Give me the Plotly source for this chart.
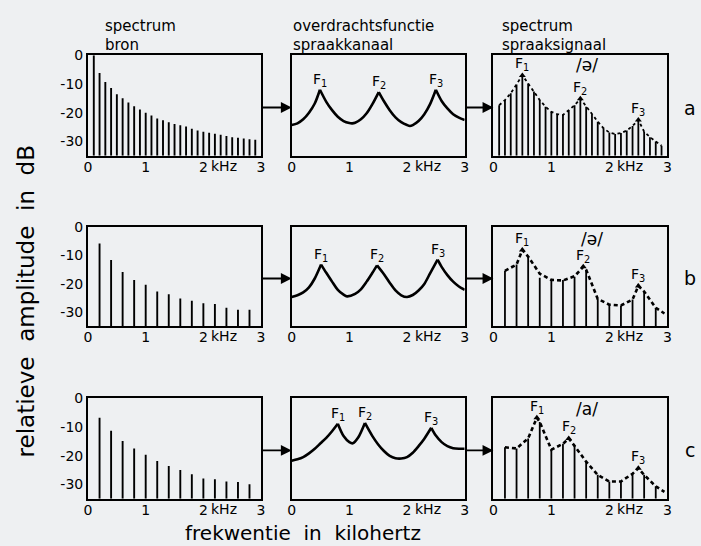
import plotly.graph_objects as go

# ---------------- data ----------------
# source spectra: harmonic frequency (kHz) and relative level (dB)
src_a_f = [0.1, 0.2, 0.3, 0.4, 0.5, 0.6, 0.7, 0.8, 0.9, 1.0, 1.1, 1.2, 1.3, 1.4, 1.5,
           1.6, 1.7, 1.8, 1.9, 2.0, 2.1, 2.2, 2.3, 2.4, 2.5, 2.6, 2.7, 2.8, 2.9]
src_a_db = [0, -6.2, -9.3, -11.4, -13.6, -15, -16.4, -17.7, -18.9, -20, -21, -22, -22.6, -23.3, -23.9,
            -24.4, -24.8, -25.6, -26.2, -26.6, -27, -27.3, -27.7, -28.1, -28.5, -28.7, -29, -29.2, -29.4]
src_b_f = [0.2, 0.4, 0.6, 0.8, 1.0, 1.2, 1.4, 1.6, 1.8, 2.0, 2.2, 2.4, 2.6, 2.8]
src_b_db = [-5.9, -11.7, -15.9, -18.7, -20.4, -22.8, -23.7, -25.2, -26, -26.9, -27.2, -28.5, -29.2, -29.2]
src_c_f = [0.2, 0.4, 0.6, 0.8, 1.0, 1.2, 1.4, 1.6, 1.8, 2.0, 2.2, 2.4, 2.6, 2.8]
src_c_db = [-6.8, -11.3, -14.9, -17.5, -19.7, -21.9, -23.6, -25, -26.5, -28, -28.2, -29, -29.2, -30]

# vocal tract transfer functions
tf_a_f = [0, 0.1, 0.2, 0.3, 0.4, 0.49, 0.6, 0.7, 0.8, 0.9, 1.0, 1.05, 1.1, 1.2, 1.3, 1.4, 1.51,
          1.6, 1.7, 1.8, 1.9, 2.0, 2.05, 2.1, 2.2, 2.3, 2.4, 2.5, 2.6, 2.7, 2.8, 2.9, 3.0]
tf_a_db = [-24.3, -23.7, -22.3, -20, -16.8, -12, -16.2, -19.1, -21.4, -22.9, -23.6, -23.7, -23.5, -22.3,
           -20.2, -17, -12.8, -16, -19.1, -21.6, -23.3, -24.3, -24.6, -24.3, -22.9, -20.5, -17, -12,
           -15.9, -18.5, -20.5, -21.7, -22.5]
tf_a_peaks = [0.49, 1.51, 2.5]

tf_b_f = [0, 0.1, 0.2, 0.3, 0.4, 0.51, 0.6, 0.7, 0.8, 0.9, 0.96, 1.1, 1.2, 1.3, 1.4, 1.48,
          1.6, 1.7, 1.8, 1.9, 2.0, 2.1, 2.2, 2.3, 2.4, 2.53, 2.6, 2.7, 2.8, 2.9, 3.0]
tf_b_db = [-24.7, -24.1, -23.1, -21.3, -18.2, -13.3, -16.2, -19.3, -22.2, -23.9, -24.5, -23.6, -22,
           -19.3, -16.2, -13.6, -16.7, -19.7, -22.4, -24.1, -24.7, -24, -22.4, -20.1, -16.4, -11.6,
           -14.1, -17, -19.3, -21, -22.2]
tf_b_peaks = [0.51, 1.48, 2.53]

tf_c_f = [0, 0.1, 0.2, 0.3, 0.4, 0.5, 0.6, 0.7, 0.8, 0.9, 1.0, 1.06, 1.15, 1.27, 1.4, 1.5, 1.6,
          1.7, 1.8, 1.9, 2.0, 2.1, 2.2, 2.3, 2.42, 2.5, 2.6, 2.7, 2.8, 2.9, 3.0]
tf_c_db = [-21.8, -21.3, -20.5, -19.2, -17.6, -15.7, -13.8, -11.5, -8.9, -13.2, -15.3, -15.7, -13.8,
           -8.6, -13.2, -16.1, -18.4, -20.1, -20.9, -21, -20.5, -19, -16.7, -14.1, -10.3, -13, -15.3,
           -16.7, -17.4, -17.6, -17.6]
tf_c_peaks = [0.8, 1.27, 2.42]

# output (speech signal) spectra: harmonics + envelope
out_a_f = src_a_f
out_a_db = [-17.4, -15.6, -13.2, -10.2, -7.0, -9.8, -12.6, -15.6, -17.9, -19.7, -20.5, -20.8, -19.1,
            -17.4, -15.1, -17.9, -20.5, -23.1, -25.4, -26.9, -27.4, -27.1, -26.2, -24.6, -22.5, -26.6,
            -28.5, -30, -31.5]
env_a_f = out_a_f
env_a_db = out_a_db
out_a_peaks = [0.5, 1.5, 2.5]

out_b_f = src_b_f
out_b_db = [-15.5, -13.3, -10.5, -17.9, -18.7, -18.7, -17.6, -15.1, -25.4, -27.4, -27.7, -25.6, -22.8, -28.5]
env_b_f = [0.2, 0.4, 0.5, 0.6, 0.8, 1.0, 1.2, 1.4, 1.55, 1.6, 1.8, 2.0, 2.2, 2.4, 2.5, 2.6, 2.8, 2.95]
env_b_db = [-15.5, -13.3, -8.2, -10.5, -16.5, -18.7, -18.9, -17.4, -14.1, -15.1, -25.4, -27.4, -27.7,
            -25.6, -20.8, -22.8, -28.5, -30.5]
out_b_peaks = [0.5, 1.55, 2.5]

out_c_f = src_c_f
out_c_db = [-17.1, -17.5, -14.0, -8.3, -17.9, -15.9, -16.6, -22.1, -26.7, -29.0, -29.0, -26.3, -26.7, -30.7]
env_c_f = [0.2, 0.4, 0.6, 0.75, 0.8, 1.0, 1.2, 1.3, 1.4, 1.6, 1.8, 2.0, 2.2, 2.4, 2.5, 2.6, 2.8, 2.95]
env_c_db = [-17.1, -17.5, -14.0, -6.8, -8.3, -17.9, -15.9, -14.0, -16.6, -22.1, -26.7, -29.0, -29.0,
            -26.3, -24.4, -26.7, -30.7, -32.6]
out_c_peaks = [0.75, 1.3, 2.5]

vowels = ["/ə/", "/ə/", "/a/"]
row_letters = ["a", "b", "c"]
x_ticks = [0, 1, 2, 3]
y_ticks = [0, -10, -20, -30]
formant_names = ["F<sub>1</sub>", "F<sub>2</sub>", "F<sub>3</sub>"]

# ---------------- layout geometry ----------------
W, H = 701, 546
Y_MIN, Y_MAX = -35, 0
FONT = "DejaVu Sans"
BG = "#eef0f2"
col_px = [(85, 260), (291, 466), (495, 671)]
row_px = [(48, 150), (222, 323), (396, 498)]
vowel_x = [1.62, 1.7, 1.62]
vowel_y = [0.9, 0.88, 0.89]


def px_x(p):
    return p / W


def px_y(p):
    return 1 - p / H


fig = go.Figure()
layout = dict(width=W, height=H, margin=dict(l=0, r=0, t=0, b=0),
              paper_bgcolor=BG, plot_bgcolor=BG, showlegend=False,
              font=dict(family=FONT, color="black", size=14))
annotations = []


def ax_id(r, c):
    n = r * 3 + c + 1
    return ("" if n == 1 else str(n))


for r in range(3):
    for c in range(3):
        n = ax_id(r, c)
        xd = [px_x(col_px[c][0]), px_x(col_px[c][1])]
        yd = [px_y(row_px[r][1]), px_y(row_px[r][0])]
        layout["xaxis" + n] = dict(domain=xd, range=[0, 3], anchor="y" + n, showline=True, mirror=True,
                                   linecolor="black", linewidth=2, showgrid=False, zeroline=False,
                                   ticks="", ticklen=0, ticklabelstandoff=-3,
                                   tickvals=x_ticks, ticktext=[str(t) for t in x_ticks],
                                   tickfont=dict(size=14, family=FONT, color="black"), fixedrange=True)
        layout["yaxis" + n] = dict(domain=yd, range=[Y_MIN, Y_MAX], anchor="x" + n, showline=True, mirror=True,
                                   linecolor="black", linewidth=2, showgrid=False, zeroline=False,
                                   ticks="", ticklen=0, tickvals=y_ticks if c == 0 else [],
                                   ticktext=[str(t) for t in y_ticks] if c == 0 else [],
                                   showticklabels=(c == 0),
                                   tickfont=dict(size=14, family=FONT, color="black"), fixedrange=True)
        # "kHz" next to the 2 tick
        annotations.append(dict(text="kHz", x=2.36, y=0, xref="x" + n, yref="y" + n + " domain",
                                yanchor="top", xanchor="center", yshift=0, showarrow=False,
                                font=dict(size=14, family=FONT, color="black")))


def stems(fs, vs):
    xs, ys = [], []
    for f, v in zip(fs, vs):
        xs += [f, f, None]
        ys += [Y_MIN, v, None]
    return xs, ys


def add_stems(r, c, fs, vs, width):
    n = ax_id(r, c)
    xs, ys = stems(fs, vs)
    fig.add_trace(go.Scatter(x=xs, y=ys, mode="lines", line=dict(color="black", width=width),
                             xaxis="x" + n, yaxis="y" + n, hoverinfo="skip"))


def add_curve(r, fs, vs, peaks):
    n = ax_id(r, 1)
    idx = [0] + [fs.index(p) for p in peaks] + [len(fs) - 1]
    for a, b in zip(idx[:-1], idx[1:]):
        fig.add_trace(go.Scatter(x=fs[a:b + 1], y=vs[a:b + 1], mode="lines",
                                 line=dict(color="black", width=2.6, shape="spline", smoothing=0.8),
                                 xaxis="x" + n, yaxis="y" + n, hoverinfo="skip"))
    for name, p in zip(formant_names, peaks):
        annotations.append(dict(text=name, x=p, y=vs[fs.index(p)], xref="x" + n, yref="y" + n,
                                xanchor="center", yanchor="bottom", yshift=-1, showarrow=False,
                                font=dict(size=14, family=FONT, color="black")))


def add_output(r, fs, vs, ef, ev, peaks, dash, width):
    n = ax_id(r, 2)
    add_stems(r, 2, fs, vs, 1.8)
    fig.add_trace(go.Scatter(x=ef, y=ev, mode="lines", line=dict(color="black", width=width, dash=dash),
                             xaxis="x" + n, yaxis="y" + n, hoverinfo="skip"))
    py = [ev[ef.index(p)] for p in peaks]
    fig.add_trace(go.Scatter(x=peaks, y=py, mode="markers",
                             marker=dict(color="black", size=6, symbol="triangle-up"),
                             xaxis="x" + n, yaxis="y" + n, hoverinfo="skip"))
    for name, p, v in zip(formant_names, peaks, py):
        annotations.append(dict(text=name, x=p, y=v, xref="x" + n, yref="y" + n,
                                xanchor="center", yanchor="bottom", yshift=0, showarrow=False,
                                font=dict(size=14, family=FONT, color="black")))


# left column: source spectra
add_stems(0, 0, src_a_f, src_a_db, 1.9)
add_stems(1, 0, src_b_f, src_b_db, 1.9)
add_stems(2, 0, src_c_f, src_c_db, 1.9)
# middle column: transfer functions
add_curve(0, tf_a_f, tf_a_db, tf_a_peaks)
add_curve(1, tf_b_f, tf_b_db, tf_b_peaks)
add_curve(2, tf_c_f, tf_c_db, tf_c_peaks)
# right column: speech spectra
add_output(0, out_a_f, out_a_db, env_a_f, env_a_db, out_a_peaks, "3px,3px", 1.8)
add_output(1, out_b_f, out_b_db, env_b_f, env_b_db, out_b_peaks, "4px,3px", 2.6)
add_output(2, out_c_f, out_c_db, env_c_f, env_c_db, out_c_peaks, "4px,3px", 2.6)

# vowel labels, arrows, row letters
for r in range(3):
    n = ax_id(r, 2)
    annotations.append(dict(text=vowels[r], x=vowel_x[r], y=vowel_y[r], xref="x" + n,
                            yref="y" + n + " domain", xanchor="center", yanchor="middle", showarrow=False,
                            font=dict(size=17, family=FONT, color="black")))
    ymid = px_y((row_px[r][0] + row_px[r][1]) / 2 + 2)
    for c in (1, 2):
        gap = col_px[c][0] - col_px[c - 1][1]
        annotations.append(dict(text="", x=px_x(col_px[c][0]), y=ymid, xref="paper", yref="paper",
                                ax=-gap, ay=0, axref="pixel", ayref="pixel", showarrow=True,
                                arrowhead=2, arrowsize=1.2, arrowwidth=1.8, arrowcolor="black",
                                standoff=0, startstandoff=0))
    annotations.append(dict(text=row_letters[r], x=px_x(694), y=ymid, xref="paper", yref="paper",
                            xanchor="center", yanchor="middle", showarrow=False,
                            font=dict(size=19, family=FONT, color="black")))

# column headings
headings = [("spectrum", "bron", 100), ("overdrachtsfunctie", "spraakkanaal", 290),
            ("spectrum", "spraaksignaal", 502)]
for t1, t2, xp in headings:
    annotations.append(dict(text=t1, x=px_x(xp), y=px_y(18), xref="paper", yref="paper",
                            xanchor="left", yanchor="middle", showarrow=False,
                            font=dict(size=15, family=FONT, color="black")))
    annotations.append(dict(text=t2, x=px_x(xp), y=px_y(38), xref="paper", yref="paper",
                            xanchor="left", yanchor="middle", showarrow=False,
                            font=dict(size=15, family=FONT, color="black")))

# axis titles
sp = "\u00a0\u00a0"
annotations.append(dict(text=sp.join(["relatieve", "amplitude", "in", "dB"]), x=px_x(22), y=px_y(298),
                        xref="paper", yref="paper", textangle=-90, xanchor="center", yanchor="middle",
                        showarrow=False, font=dict(size=23, family=FONT, color="black")))
annotations.append(dict(text=sp.join(["frekwentie", "in", "kilohertz"]), x=px_x(302), y=px_y(533),
                        xref="paper", yref="paper", xanchor="center", yanchor="middle",
                        showarrow=False, font=dict(size=20, family=FONT, color="black")))

layout["annotations"] = annotations
fig.update_layout(**layout)
fig.write_html("out.html")
